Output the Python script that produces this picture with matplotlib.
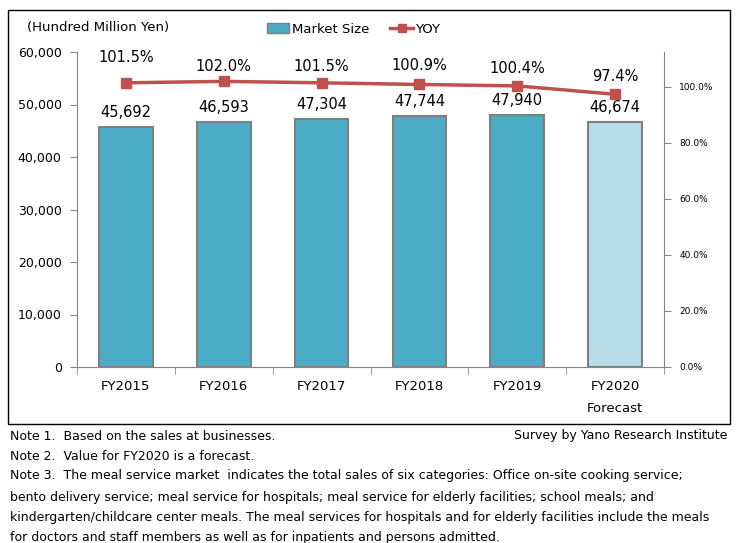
import numpy as np
import matplotlib.pyplot as plt
from matplotlib.patches import Rectangle
from matplotlib.lines import Line2D

# values
years = ["FY2015", "FY2016", "FY2017", "FY2018", "FY2019", "FY2020\nForecast"]
market = [45692, 46593, 47304, 47744, 47940, 46674]
yoy = [101.5, 102.0, 101.5, 100.9, 100.4, 97.4]
yoy_offsets = [25, 15, 16, 19, 17, 18]   # label offsets above markers (px)

bar_col = "#4BACC6"
fc_col = "#B7DDE8"
line_col = "#C0504D"
gray = "#868686"

fig = plt.figure(figsize=(7.4, 5.43), dpi=100)
W, H = 740, 543

# outer frame around the chart
fig.patches.append(Rectangle((8 / W, 1 - 424 / H), 722 / W, 414 / H,
                             transform=fig.transFigure, fill=False,
                             edgecolor="black", linewidth=1.0))

ax = fig.add_axes([77 / W, 1 - 367 / H, 587 / W, 315 / H])
x = np.arange(len(years))
colors = [bar_col] * 5 + [fc_col]
ax.bar(x, market, width=0.55, color=colors, edgecolor="#7F7F7F", linewidth=1.5, zorder=2)
ax.set_xlim(-0.5, 5.5)
ax.set_ylim(0, 60000)
ax.set_yticks(np.arange(0, 60001, 10000))
ax.set_yticklabels([f"{v:,}" for v in range(0, 60001, 10000)], fontsize=9)
ax.set_xticks(x)
ax.set_xticklabels(years, fontsize=9.5, linespacing=1.9, va="top")
ax.set_xticks(np.arange(-0.5, 5.6, 1), minor=True)
ax.tick_params(axis="x", which="major", length=0, pad=9)
ax.tick_params(axis="x", which="minor", length=5, color=gray)
ax.tick_params(axis="y", length=5, color=gray, pad=6)
for s in ["top", "right"]:
    ax.spines[s].set_visible(False)
ax.spines["left"].set_color(gray)
ax.spines["bottom"].set_color(gray)

for xi, v in zip(x, market):
    ax.annotate(f"{v:,}", (xi, v), xytext=(0, 7), textcoords="offset pixels",
                ha="center", va="bottom", fontsize=10.5)

ax2 = ax.twinx()
ax2.plot(x, np.array(yoy) / 100, color=line_col, linewidth=2.5, marker="s",
         markersize=7.5, zorder=3)
ax2.set_ylim(0, 1.125)
ax2.set_yticks(np.arange(0, 1.01, 0.2))
ax2.set_yticklabels([f"{v:.1f}%" for v in np.arange(0, 101, 20)], fontsize=6.5)
ax2.tick_params(axis="y", length=5, color=gray, pad=6)
for s in ["top", "left", "bottom"]:
    ax2.spines[s].set_visible(False)
ax2.spines["right"].set_color(gray)

for xi, v, off in zip(x, yoy, yoy_offsets):
    ax2.annotate(f"{v:.1f}%", (xi, v / 100), xytext=(0, off), textcoords="offset pixels",
                 ha="center", va="center", fontsize=10.5)

fig.text(27 / W, 1 - 28 / H, "(Hundred Million Yen)", fontsize=9.5, va="center")

handles = [Rectangle((0, 0), 1, 1, facecolor=bar_col, edgecolor="#7F7F7F"),
           Line2D([0], [0], color=line_col, linewidth=2.5, marker="s", markersize=6)]
fig.legend(handles, ["Market Size", "YOY"], loc="center left",
           bbox_to_anchor=(255 / W, 1 - 29 / H), ncol=2, frameon=False,
           fontsize=9.5, handlelength=1.7, handletextpad=0.2, columnspacing=1.6)

notes_left = [
    "Note 1.  Based on the sales at businesses.",
    "Note 2.  Value for FY2020 is a forecast.",
    "Note 3.  The meal service market  indicates the total sales of six categories: Office on-site cooking service;",
    "bento delivery service; meal service for hospitals; meal service for elderly facilities; school meals; and",
    "kindergarten/childcare center meals. The meal services for hospitals and for elderly facilities include the meals",
    "for doctors and staff members as well as for inpatients and persons admitted.",
]
ys = [436, 456, 476, 497, 517, 537]
for t, yy in zip(notes_left, ys):
    fig.text(10 / W, 1 - yy / H, t, fontsize=9, va="center")
fig.text(727 / W, 1 - 436 / H, "Survey by Yano Research Institute", fontsize=9,
         va="center", ha="right")

fig.savefig("out.png", dpi=100)
